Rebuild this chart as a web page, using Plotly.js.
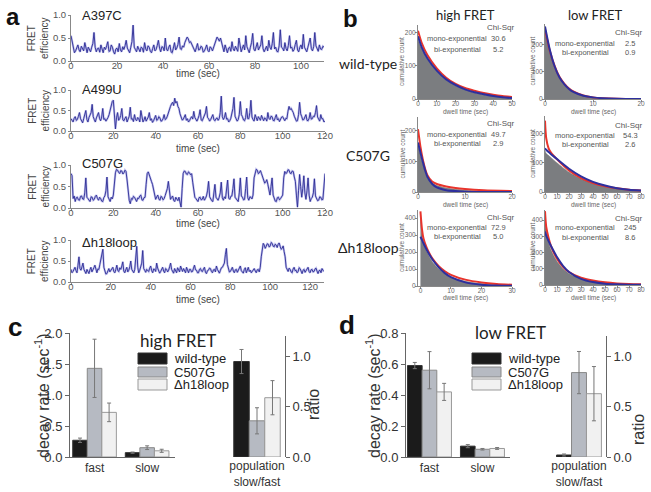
<!DOCTYPE html>
<html>
<head>
<meta charset="utf-8">
<script src="https://cdn.plot.ly/plotly-3.0.1.min.js"></script>
<style>body{margin:0;background:#fff}#fig{width:651px;height:492px}</style>
</head>
<body>
<div id="fig"></div>
<script>
// panel a: FRET traces, one value every half second
const a397c = [0.55,0.42,0.30,0.18,0.22,0.30,0.35,0.24,0.20,0.32,0.28,0.22,0.40,0.26,0.18,0.30,0.25,0.20,0.30,0.38,
  0.62,0.30,0.20,0.27,0.28,0.19,0.35,0.24,0.18,0.30,0.25,0.33,0.42,0.21,0.22,0.35,0.30,0.20,0.15,0.26,
  0.28,0.20,0.38,0.24,0.20,0.31,0.25,0.33,0.45,0.28,0.22,0.18,0.30,0.42,0.78,0.30,0.25,0.20,0.32,0.24,
  0.20,0.30,0.28,0.19,0.40,0.26,0.22,0.33,0.30,0.21,0.18,0.27,0.35,0.22,0.25,0.34,0.45,0.28,0.20,0.31,
  0.30,0.22,0.50,0.26,0.22,0.30,0.35,0.20,0.18,0.28,0.40,0.24,0.28,0.36,0.52,0.27,0.25,0.33,0.30,0.40,
  0.45,0.52,0.48,0.40,0.42,0.36,0.30,0.22,0.20,0.29,0.38,0.24,0.25,0.32,0.30,0.19,0.22,0.28,0.35,0.23,
  0.20,0.31,0.28,0.22,0.30,0.40,0.45,0.52,0.48,0.43,0.50,0.38,0.25,0.20,0.35,0.26,0.18,0.28,0.30,0.21,
  0.42,0.27,0.22,0.32,0.28,0.21,0.50,0.30,0.20,0.28,0.35,0.24,0.55,0.31,0.25,0.18,0.30,0.40,0.60,0.26,
  0.22,0.30,0.40,0.24,0.28,0.35,0.55,0.27,0.20,0.29,0.32,0.22,0.45,0.30,0.25,0.38,0.62,0.26,0.30,0.21,
  0.20,0.33,0.68,0.30,0.28,0.22,0.40,0.27,0.22,0.34,0.55,0.28,0.30,0.21,0.25,0.36,0.45,0.24,0.20,0.30,
  0.35,0.26,0.58,0.30,0.25,0.20,0.30,0.38,0.50,0.27,0.22,0.31,0.62,0.33,0.28,0.21,0.35,0.26,0.25,0.32,0.30];
const a499u = [0.30,0.24,0.22,0.31,0.35,0.26,0.28,0.36,0.45,0.30,0.25,0.20,0.30,0.40,0.50,0.28,0.22,0.33,0.38,0.45,
  0.65,0.35,0.28,0.22,0.32,0.38,0.45,0.30,0.25,0.34,0.55,0.28,0.30,0.24,0.28,0.33,0.40,0.52,0.68,0.72,
  0.75,0.30,0.05,0.32,0.45,0.26,0.30,0.38,0.55,0.27,0.25,0.31,0.35,0.22,0.28,0.36,0.58,0.29,0.30,0.23,
  0.40,0.28,0.25,0.33,0.30,0.22,0.50,0.31,0.22,0.27,0.35,0.24,0.28,0.34,0.45,0.26,0.30,0.21,0.25,0.32,
  0.38,0.26,0.28,0.35,0.32,0.24,0.25,0.30,0.40,0.28,0.30,0.36,0.45,0.55,0.60,0.66,0.70,0.62,0.80,0.68,
  0.72,0.60,0.55,0.42,0.35,0.27,0.28,0.34,0.40,0.26,0.30,0.22,0.25,0.31,0.35,0.29,0.48,0.33,0.28,0.24,
  0.30,0.38,0.52,0.27,0.25,0.32,0.35,0.44,0.60,0.33,0.30,0.24,0.28,0.35,0.40,0.28,0.25,0.30,0.32,0.26,
  0.30,0.45,0.85,0.35,0.28,0.33,0.45,0.29,0.30,0.22,0.25,0.31,0.40,0.55,0.82,0.36,0.30,0.24,0.28,0.40,
  0.72,0.40,0.35,0.27,0.25,0.33,0.55,0.30,0.30,0.45,0.75,0.34,0.28,0.24,0.40,0.30,0.25,0.35,0.30,0.26,
  0.38,0.29,0.25,0.32,0.30,0.24,0.45,0.31,0.28,0.36,0.35,0.26,0.25,0.33,0.40,0.27,0.30,0.23,0.28,0.34,
  0.35,0.28,0.25,0.31,0.30,0.48,0.60,0.52,0.55,0.50,0.45,0.36,0.30,0.24,0.25,0.40,0.70,0.42,0.35,0.27,
  0.28,0.33,0.40,0.26,0.25,0.31,0.45,0.29,0.30,0.36,0.35,0.45,0.62,0.34,0.28,0.24,0.40,0.30,0.30,0.22,0.25];
const c507g = [0.80,0.75,0.22,0.28,0.15,0.24,0.25,0.19,0.18,0.27,0.28,0.21,0.20,0.35,0.70,0.25,0.22,0.17,0.15,0.26,
  0.25,0.18,0.20,0.27,0.30,0.22,0.18,0.25,0.22,0.16,0.15,0.24,0.28,0.40,0.72,0.26,0.20,0.15,0.25,0.21,
  0.30,0.60,0.82,0.90,0.88,0.83,0.80,0.87,0.86,0.79,0.82,0.88,0.85,0.65,0.30,0.18,0.10,0.22,0.20,0.27,
  0.25,0.20,0.15,0.23,0.22,0.28,0.30,0.19,0.18,0.24,0.25,0.55,0.80,0.84,0.78,0.70,0.62,0.55,0.45,0.30,
  0.20,0.26,0.30,0.21,0.18,0.27,0.25,0.19,0.22,0.29,0.35,0.45,0.62,0.30,0.20,0.24,0.28,0.18,0.15,0.25,
  0.22,0.17,0.25,0.12,0.02,0.45,0.80,0.86,0.85,0.79,0.78,0.84,0.82,0.77,0.80,0.60,0.35,0.25,0.22,0.18,
  0.15,0.24,0.25,0.19,0.20,0.27,0.18,0.22,0.28,0.40,0.62,0.26,0.20,0.17,0.15,0.30,0.55,0.25,0.22,0.18,
  0.25,0.35,0.60,0.24,0.18,0.26,0.22,0.40,0.65,0.23,0.20,0.27,0.28,0.45,0.68,0.25,0.22,0.18,0.15,0.35,
  0.70,0.28,0.25,0.19,0.20,0.45,0.72,0.24,0.18,0.26,0.25,0.21,0.30,0.70,0.85,0.90,0.88,0.80,0.82,0.87,
  0.80,0.72,0.65,0.58,0.60,0.66,0.55,0.45,0.30,0.50,0.70,0.30,0.20,0.16,0.15,0.24,0.25,0.19,0.22,0.28,
  0.30,0.70,0.85,0.80,0.82,0.89,0.88,0.81,0.80,0.86,0.85,0.72,0.62,0.30,0.02,0.40,0.78,0.50,0.25,0.45,
  0.75,0.35,0.20,0.40,0.70,0.30,0.15,0.22,0.25,0.35,0.68,0.28,0.22,0.17,0.18,0.26,0.25,0.19,0.20,0.45,0.80];
const dh18loop = [0.30,0.22,0.25,0.33,0.35,0.27,0.22,0.40,0.60,0.32,0.28,0.36,0.45,0.30,0.25,0.20,0.30,0.26,0.20,0.29,
  0.35,0.24,0.28,0.34,0.40,0.27,0.22,0.31,0.30,0.42,0.55,0.70,0.78,0.35,0.25,0.19,0.20,0.28,0.32,0.24,
  0.28,0.33,0.35,0.25,0.22,0.30,0.40,0.27,0.25,0.34,0.30,0.38,0.48,0.26,0.22,0.29,0.35,0.24,0.28,0.36,
  0.50,0.30,0.25,0.22,0.30,0.55,0.85,0.35,0.22,0.28,0.35,0.45,0.75,0.32,0.28,0.23,0.30,0.27,0.25,0.33,
  0.38,0.27,0.22,0.31,0.30,0.25,0.45,0.33,0.28,0.21,0.25,0.30,0.35,0.26,0.22,0.32,0.30,0.24,0.28,0.36,
  0.45,0.30,0.25,0.21,0.32,0.27,0.22,0.34,0.30,0.24,0.38,0.29,0.25,0.32,0.28,0.22,0.35,0.27,0.22,0.30,
  0.30,0.24,0.25,0.33,0.40,0.29,0.28,0.22,0.22,0.30,0.32,0.26,0.25,0.31,0.35,0.23,0.20,0.27,0.28,0.33,
  0.32,0.25,0.22,0.29,0.30,0.24,0.38,0.30,0.25,0.21,0.28,0.34,0.35,0.40,0.45,0.65,0.80,0.42,0.30,0.24,
  0.25,0.31,0.35,0.26,0.22,0.29,0.30,0.23,0.28,0.33,0.38,0.27,0.25,0.21,0.30,0.34,0.22,0.28,0.35,0.25,
  0.28,0.22,0.25,0.30,0.32,0.26,0.22,0.29,0.30,0.24,0.35,0.60,0.82,0.92,0.88,0.80,0.85,0.91,0.90,0.83,
  0.86,0.94,0.92,0.85,0.84,0.90,0.88,0.82,0.90,0.93,0.85,0.78,0.80,0.86,0.72,0.60,0.35,0.28,0.25,0.33,
  0.30,0.24,0.22,0.31,0.35,0.27,0.28,0.22,0.25,0.34,0.32,0.26,0.20,0.28,0.30,0.23,0.28,0.33,0.35,0.25,
  0.22,0.29,0.30,0.24,0.25,0.31,0.33,0.26,0.20,0.27,0.28,0.22,0.32,0.28,0.25];

// panel b: cumulative dwell time histograms and fits
const wtHighT = [0, 2, 5, 10, 15, 20, 25, 30, 35, 40, 45, 50];
const wtHighHist = [178, 150, 120, 83, 57, 40, 28, 19, 13, 8, 5, 2];
const wtHighMono = [205, 168, 132, 92, 64, 45, 33, 25, 18, 13, 9, 6];
const wtHighBi = [188, 155, 122, 85, 59, 42, 29, 20, 14, 9, 5, 3];
const wtLowT = [0, 1, 2, 3, 4, 5, 6, 8, 10, 12, 15, 20];
const wtLowHist = [245, 170, 115, 76, 52, 35, 23, 11, 5, 2, 1, 0];
const wtLowMono = [258, 178, 122, 82, 57, 39, 27, 13, 6, 3, 1, 0];
const wtLowBi = [268, 182, 121, 80, 55, 37, 25, 12, 6, 3, 1, 0];
const cHighT = [0, 0.5, 1, 1.5, 2, 3, 4, 6, 8, 10, 14, 20];
const cHighHist = [155, 122, 92, 66, 46, 29, 21, 13, 9, 6, 3, 1];
const cHighMono = [205, 150, 108, 77, 55, 34, 26, 18, 13, 10, 6, 3];
const cHighBi = [162, 130, 100, 72, 50, 27, 15, 6, 3, 1, 0, 0];
const cLowT = [0, 1, 3, 5, 10, 20, 30, 40, 50, 60, 70, 80];
const cLowHist = [142, 132, 125, 118, 100, 68, 45, 30, 20, 13, 8, 5];
const cLowMono = [245, 185, 150, 135, 112, 74, 48, 31, 20, 13, 8, 5];
const cLowBi = [150, 145, 137, 130, 113, 80, 54, 35, 22, 13, 8, 5];
const dHighT = [0, 0.5, 1, 2, 3, 4, 6, 8, 10, 15, 20, 25, 30];
const dHighHist = [430, 300, 250, 205, 170, 140, 100, 72, 52, 27, 14, 7, 3];
const dHighMono = [440, 335, 280, 228, 190, 160, 117, 87, 66, 36, 21, 12, 7];
const dHighBi = [290, 272, 252, 215, 183, 155, 110, 76, 52, 20, 8, 3, 1];
const dLowT = [0, 1, 3, 5, 10, 15, 20, 30, 40, 50, 60, 70, 80];
const dLowHist = [440, 330, 262, 215, 145, 100, 70, 40, 24, 14, 8, 5, 3];
const dLowMono = [455, 360, 290, 240, 162, 112, 80, 45, 28, 17, 10, 6, 4];
const dLowBi = [330, 305, 270, 240, 172, 118, 80, 38, 18, 8, 4, 2, 1];
const chiHigh = [['30.6', '5.2'], ['49.7', '2.9'], ['72.9', '5.0']];
const chiLow = [['2.5', '0.9'], ['54.3', '2.6'], ['245', '8.6']];

// panels c, d: decay rates and ratios
const constructs = ['wild-type', 'C507G', 'Δh18loop'];
const rateCats = ['fast', 'slow'];
const cWT = [0.27, 0.07], cWTErr = [0.035, 0.01];
const cC507G = [1.43, 0.15], cC507GErr = [0.47, 0.03];
const cDh18 = [0.72, 0.10], cDh18Err = [0.15, 0.025];
const cRatio = [0.95, 0.36, 0.59], cRatioErr = [0.12, 0.13, 0.17];
const dWT = [0.59, 0.07], dWTErr = [0.02, 0.01];
const dC507G = [0.56, 0.05], dC507GErr = [0.12, 0.005];
const dDh18 = [0.42, 0.055], dDh18Err = [0.055, 0.006];
const dRatio = [0.02, 0.84, 0.63], dRatioErr = [0.01, 0.21, 0.27];

const W = 651, H = 492;
const SANS = 'Liberation Sans, Arial, sans-serif';
const HUM = 'Lato, Open Sans, sans-serif';
const px = x => x / W;
const py = y => 1 - y / H;

const layout = {
  width: W, height: H, margin: {l: 0, r: 0, t: 0, b: 0},
  paper_bgcolor: '#fff', plot_bgcolor: 'rgba(0,0,0,0)',
  showlegend: false, barmode: 'group', bargap: 0.17, bargroupgap: 0,
  font: {family: SANS, color: '#333'},
  annotations: [], shapes: []
};
const data = [];
let n = 0;

function addAxes(x0, x1, yTop, yBot, xo, yo) {
  n++;
  const s = n === 1 ? '' : String(n);
  const base = {showgrid: false, zeroline: false, showline: true, linecolor: '#888', linewidth: 1,
    ticks: 'outside', ticklen: 3, tickcolor: '#888', fixedrange: true};
  layout['xaxis' + s] = Object.assign({}, base, {domain: [px(x0), px(x1)], anchor: 'y' + s}, xo);
  layout['yaxis' + s] = Object.assign({}, base, {domain: [py(yBot), py(yTop)], anchor: 'x' + s}, yo);
  return {x: 'x' + s, y: 'y' + s};
}

function note(text, x, y, o) {
  layout.annotations.push(Object.assign({text: text, x: px(x), y: py(y), xref: 'paper', yref: 'paper',
    showarrow: false, xanchor: 'center', yanchor: 'middle', font: {size: 10, color: '#333', family: SANS}}, o));
}

// ---- panel a
const aPanels = [
  {name: 'A397C', vals: a397c, xmax: 110, x1: 324, top: 15, bot: 61, label: 15, xt: 73},
  {name: 'A499U', vals: a499u, xmax: 120, x1: 325, top: 90, bot: 131, label: 89, xt: 148},
  {name: 'C507G', vals: c507g, xmax: 120, x1: 325, top: 165, bot: 208, label: 164, xt: 223},
  {name: 'Δh18loop', vals: dh18loop, xmax: 127, x1: 324, top: 240, bot: 282, label: 242, xt: 299}
];
aPanels.forEach(p => {
  const ax = addAxes(71, p.x1, p.top, p.bot,
    {range: [0, p.xmax], dtick: 20, tickfont: {size: 9.5, color: '#555'}, ticklen: 2, ticklabelstandoff: -6},
    {range: [0, 1], tickvals: [0, 0.5, 1], tickformat: '.1f', tickfont: {size: 9.5, color: '#555'}, ticklen: 2});
  const t = p.vals.map((v, i) => i * 0.5);
  data.push({type: 'scatter', mode: 'lines', x: t, y: p.vals, xaxis: ax.x, yaxis: ax.y,
    line: {color: 'rgba(130,130,220,0.5)', width: 2.2}, hoverinfo: 'skip'});
  data.push({type: 'scatter', mode: 'lines', x: t, y: p.vals, xaxis: ax.x, yaxis: ax.y,
    line: {color: '#2c2c94', width: 0.9}, hoverinfo: 'skip'});
  note(p.name, 80, p.label, {xanchor: 'left', font: {size: 13, color: '#222', family: SANS}});
  note('FRET<br>efficiency', 38, (p.top + p.bot) / 2, {textangle: -90, font: {size: 10, color: '#444', family: SANS}});
  note('time (sec)', 198, p.xt, {font: {size: 10, color: '#444', family: SANS}});
});
note('<b>a</b>', 13, 17, {font: {size: 24, color: '#111', family: SANS}});

// ---- panel b
const bPanels = [
  {t: wtHighT, hist: wtHighHist, mono: wtHighMono, bi: wtHighBi, col: 0, top: 25, bot: 99, xr: [0, 50], yr: [0, 222]},
  {t: wtLowT, hist: wtLowHist, mono: wtLowMono, bi: wtLowBi, col: 1, top: 24, bot: 99, xr: [0, 20], yr: [0, 277]},
  {t: cHighT, hist: cHighHist, mono: cHighMono, bi: cHighBi, col: 0, top: 117, bot: 192, xr: [0, 20], yr: [0, 245]},
  {t: cLowT, hist: cLowHist, mono: cLowMono, bi: cLowBi, col: 1, top: 116, bot: 192, xr: [0, 80], yr: [0, 261]},
  {t: dHighT, hist: dHighHist, mono: dHighMono, bi: dHighBi, col: 0, top: 210, bot: 286, xr: [-0.8, 30], yr: [0, 448]},
  {t: dLowT, hist: dLowHist, mono: dLowMono, bi: dLowBi, col: 1, top: 210, bot: 285, xr: [0, 80], yr: [0, 462]}
];
const colX = [[418, 512], [545, 641]];
const chiRows = [[28, 39, 50, 32, 43, 52], [123, 134, 143, 125, 135, 144], [217, 227, 236, 218, 228, 237]];
bPanels.forEach((p, i) => {
  const [x0, x1] = colX[p.col];
  const ax = addAxes(x0, x1, p.top, p.bot,
    {range: p.xr, dtick: 10, tick0: 0, tickfont: {size: 6.5, color: '#666'}, ticklen: 2, ticklabelstandoff: -4},
    {range: p.yr, dtick: 100, tickfont: {size: 6.5, color: '#666'}, ticklen: 2, ticklabelstandoff: -2});
  data.push({type: 'scatter', mode: 'lines', x: p.t, y: p.hist, xaxis: ax.x, yaxis: ax.y, fill: 'tozeroy',
    fillcolor: '#7b7d80', line: {color: '#6a6a6a', width: 0.5, shape: 'spline', smoothing: 0.7}, hoverinfo: 'skip'});
  data.push({type: 'scatter', mode: 'lines', x: p.t, y: p.mono, xaxis: ax.x, yaxis: ax.y,
    line: {color: '#e8342c', width: 2, shape: 'spline', smoothing: 0.7}, hoverinfo: 'skip'});
  data.push({type: 'scatter', mode: 'lines', x: p.t, y: p.bi, xaxis: ax.x, yaxis: ax.y,
    line: {color: '#2d2f9e', width: 2, shape: 'spline', smoothing: 0.7}, hoverinfo: 'skip'});
  const row = Math.floor(i / 2);
  const ys = chiRows[row].slice(p.col * 3, p.col * 3 + 3);
  const labC = p.col === 0 ? 457 : 585;
  const numC = p.col === 0 ? 498 : 630;
  const chiC = p.col === 0 ? 500 : 628;
  const vals = p.col === 0 ? chiHigh[row] : chiLow[row];
  const f = {size: 7.5, color: '#555', family: SANS};
  note('Chi-Sqr', chiC, ys[0], {font: {size: 8, color: '#555', family: SANS}});
  note('mono-exponential', labC, ys[1], {font: f});
  note('bi-exponential', labC, ys[2], {font: f});
  note(vals[0], numC, ys[1], {font: f});
  note(vals[1], numC, ys[2], {font: f});
  note('cumulative count', p.col === 0 ? 402 : 532, (p.top + p.bot) / 2, {textangle: -90, font: {size: 6.5, color: '#666', family: SANS}});
  note('dwell time (sec)', (x0 + x1) / 2, [112, 205, 298][row], {font: {size: 6.5, color: '#666', family: SANS}});
});
note('<b>b</b>', 350, 18, {font: {size: 24, color: '#111', family: SANS}});
note('high FRET', 465, 15, {font: {size: 13, color: '#222', family: HUM}});
note('low FRET', 595, 15, {font: {size: 13, color: '#222', family: HUM}});
note('wild-type', 368, 63, {font: {size: 14, color: '#222', family: HUM}});
note('C507G', 368, 155, {font: {size: 14, color: '#222', family: HUM}});
note('Δh18loop', 368, 248, {font: {size: 14, color: '#222', family: HUM}});

// ---- panels c and d
const barColors = ['#1b1b1b', '#b6bac2', '#f1f1f1'];
const barLines = ['#333', '#888', '#999'];
function barPanel(cfg) {
  const ax1 = addAxes(cfg.l0, cfg.l1, 333, 457,
    {range: cfg.lrange, tickvals: [0, 1], ticktext: rateCats, ticks: '', linecolor: '#666', tickfont: {size: 12, color: '#333'}},
    {range: [0, cfg.ymax], dtick: cfg.ymax / 4, tickformat: '.1f', linecolor: '#666', tickcolor: '#666', ticklen: 4, tickfont: {size: 13, color: '#333'}});
  const ax2 = addAxes(cfg.r0, cfg.r1, 336.4, 457,
    {range: [-0.5, 0.5], tickvals: [0], ticktext: ['population<br>slow/fast'], ticks: '', showline: false, tickfont: {size: 12, color: '#333'}},
    {side: 'right', range: [0, 1.2], tickvals: [0, 0.5, 1], tickformat: '.1f', linecolor: '#666', tickcolor: '#666', ticklen: 4, tickfont: {size: 13, color: '#333'}});
  cfg.rates.forEach((vals, i) => {
    data.push({type: 'bar', x: [0, 1], y: vals, xaxis: ax1.x, yaxis: ax1.y, name: constructs[i],
      marker: {color: barColors[i], line: {color: barLines[i], width: 1}},
      error_y: {type: 'data', array: cfg.errs[i], color: '#777', thickness: 1, width: 2}, hoverinfo: 'skip'});
    data.push({type: 'bar', x: [0], y: [cfg.ratio[i]], xaxis: ax2.x, yaxis: ax2.y, name: constructs[i],
      marker: {color: barColors[i], line: {color: barLines[i], width: 1}},
      error_y: {type: 'data', array: [cfg.ratioErr[i]], color: '#777', thickness: 1, width: 2}, hoverinfo: 'skip'});
  });
  const ly = [[353, 364], [367, 377], [379, 390]];
  constructs.forEach((c, i) => {
    layout.shapes.push({type: 'rect', xref: 'paper', yref: 'paper', x0: px(cfg.lx), x1: px(cfg.lx + 29),
      y0: py(ly[i][1]), y1: py(ly[i][0]), fillcolor: barColors[i], line: {color: barLines[i], width: 1}});
    note(c, cfg.lx + 34, (ly[i][0] + ly[i][1]) / 2, {xanchor: 'left', font: {size: 13, color: '#222', family: SANS}});
  });
  note('<b>' + cfg.letter + '</b>', cfg.letterX, cfg.letterY, {font: {size: 26, color: '#111', family: SANS}});
  note(cfg.title, cfg.titleX, cfg.titleY, {font: {size: 17, color: '#222', family: HUM}});
  note('decay rate (sec<sup>-1</sup>)', cfg.ytX, 396, {textangle: -90, font: {size: 16, color: '#333', family: SANS}});
  note('ratio', cfg.ratioX, cfg.ratioY, {textangle: -90, font: {size: 16, color: '#333', family: SANS}});
}
barPanel({l0: 70, l1: 175, lrange: [-0.467, 1.53], r0: 229, r1: 285, ymax: 2,
  rates: [cWT, cC507G, cDh18], errs: [cWTErr, cC507GErr, cDh18Err], ratio: cRatio, ratioErr: cRatioErr,
  lx: 138, letter: 'c', letterX: 15, letterY: 327, title: 'high FRET', titleX: 178, titleY: 340,
  ytX: 42, ratioX: 313, ratioY: 405});
barPanel({l0: 406, l1: 510, lrange: [-0.443, 1.52], r0: 552, r1: 606, ymax: 0.8,
  rates: [dWT, dC507G, dDh18], errs: [dWTErr, dC507GErr, dDh18Err], ratio: dRatio, ratioErr: dRatioErr,
  lx: 472, letter: 'd', letterX: 347, letterY: 325, title: 'low FRET', titleX: 510, titleY: 332,
  ytX: 373, ratioX: 638, ratioY: 430});

Plotly.newPlot('fig', data, layout, {staticPlot: true});
</script>
</body>
</html>
